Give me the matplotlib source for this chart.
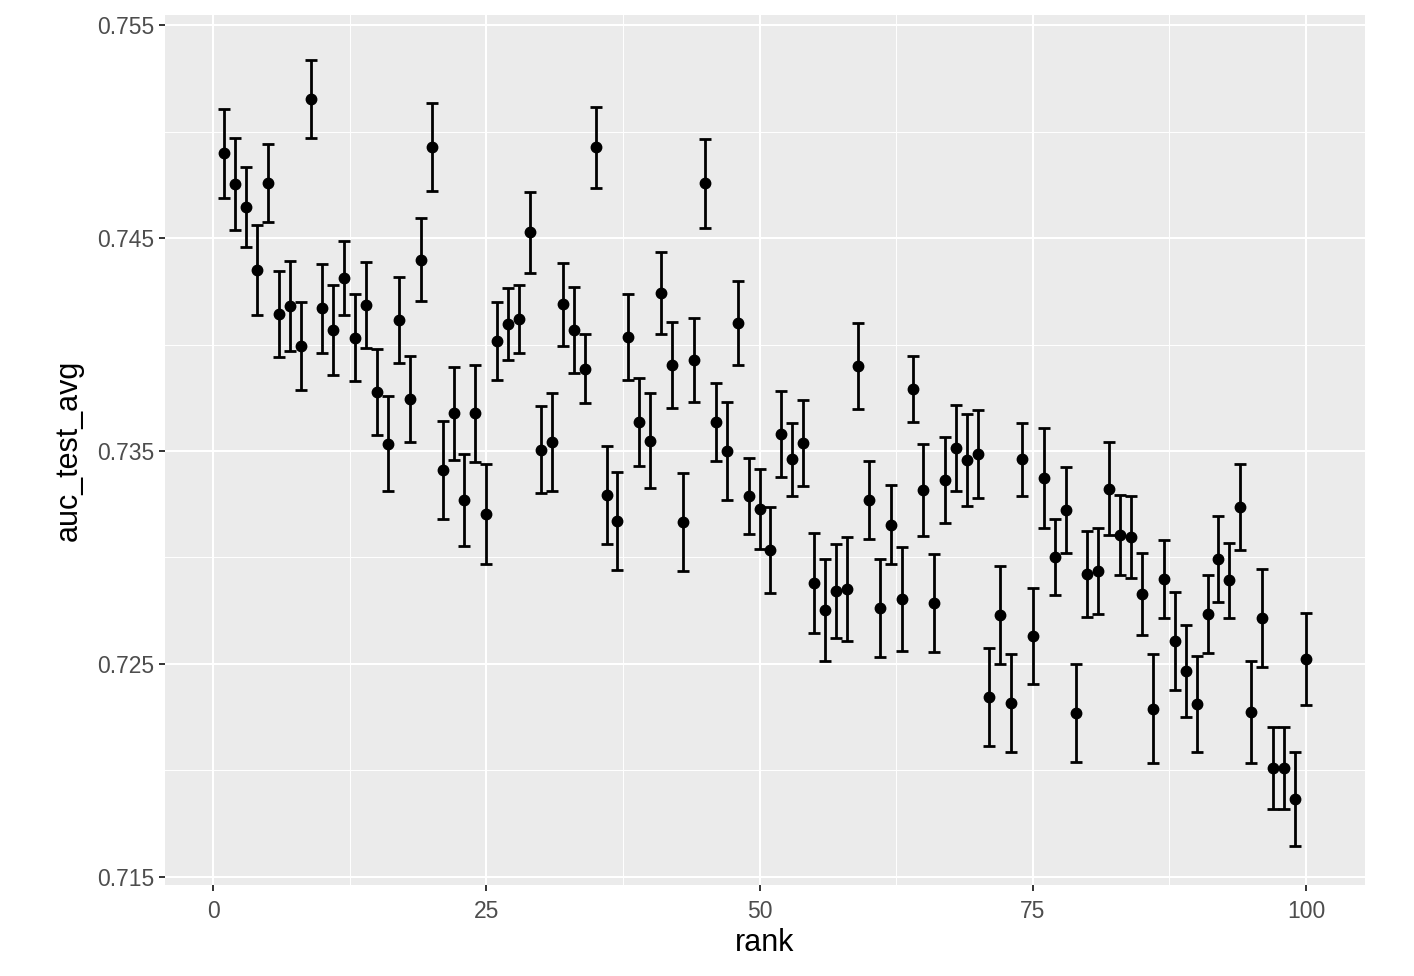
import matplotlib
matplotlib.use("Agg")
import matplotlib.pyplot as plt
from matplotlib.ticker import MultipleLocator

plt.rcParams['font.family'] = ['Liberation Sans', 'DejaVu Sans']

# mean test AUC per rank, and half-width of its error bar
rank = list(range(1, 101))
auc_test_avg = [
    0.74899, 0.74754, 0.74646, 0.74350, 0.74758, 0.74143, 0.74181, 0.73993, 0.75153, 0.74171,
    0.74068, 0.74312, 0.74031, 0.74185, 0.73777, 0.73533, 0.74115, 0.73744, 0.74397, 0.74927,
    0.73411, 0.73678, 0.73270, 0.73678, 0.73204, 0.74016, 0.74096, 0.74120, 0.74528, 0.73505,
    0.73542, 0.74190, 0.74068, 0.73885, 0.74927, 0.73293, 0.73171, 0.74035, 0.73636, 0.73547,
    0.74242, 0.73904, 0.73167, 0.73927, 0.74758, 0.73636, 0.73500, 0.74101, 0.73289, 0.73228,
    0.73035, 0.73580, 0.73462, 0.73538, 0.72880, 0.72754, 0.72843, 0.72852, 0.73899, 0.73270,
    0.72763, 0.73153, 0.72805, 0.73791, 0.73317, 0.72786, 0.73364, 0.73514, 0.73458, 0.73486,
    0.72345, 0.72730, 0.72317, 0.73462, 0.72631, 0.73373, 0.73002, 0.73223, 0.72270, 0.72923,
    0.72937, 0.73322, 0.73106, 0.73096, 0.72829, 0.72289, 0.72899, 0.72608, 0.72467, 0.72312,
    0.72735, 0.72993, 0.72894, 0.73237, 0.72275, 0.72716, 0.72012, 0.72012, 0.71866, 0.72523,
]
auc_err = [
    0.00209, 0.00216, 0.00188, 0.00211, 0.00183, 0.00204, 0.00211, 0.00207, 0.00183, 0.00209,
    0.00211, 0.00174, 0.00204, 0.00202, 0.00200, 0.00223, 0.00202, 0.00204, 0.00195, 0.00207,
    0.00228, 0.00218, 0.00216, 0.00228, 0.00235, 0.00183, 0.00167, 0.00160, 0.00190, 0.00204,
    0.00228, 0.00195, 0.00202, 0.00162, 0.00190, 0.00230, 0.00232, 0.00200, 0.00207, 0.00223,
    0.00192, 0.00202, 0.00230, 0.00197, 0.00209, 0.00183, 0.00232, 0.00195, 0.00178, 0.00188,
    0.00200, 0.00202, 0.00171, 0.00202, 0.00235, 0.00239, 0.00221, 0.00242, 0.00202, 0.00183,
    0.00228, 0.00185, 0.00244, 0.00153, 0.00218, 0.00230, 0.00200, 0.00204, 0.00216, 0.00207,
    0.00228, 0.00228, 0.00230, 0.00171, 0.00225, 0.00235, 0.00178, 0.00200, 0.00228, 0.00202,
    0.00202, 0.00218, 0.00188, 0.00192, 0.00192, 0.00256, 0.00185, 0.00228, 0.00218, 0.00225,
    0.00183, 0.00202, 0.00176, 0.00200, 0.00239, 0.00230, 0.00192, 0.00192, 0.00221, 0.00214,
]

fig = plt.figure(figsize=(14.14, 9.76), dpi=100)
ax = fig.add_axes([0.1167, 0.0932, 0.8486, 0.8914])
ax.set_facecolor("#EBEBEB")

ax.errorbar(rank, auc_test_avg, yerr=auc_err, fmt="o", color="black",
            markersize=7.5, elinewidth=2.0, capsize=4, capthick=2.0, zorder=3)

ax.set_xlim(-4.4, 105.4)
ax.set_ylim(0.71462, 0.75547)
ax.xaxis.set_major_locator(MultipleLocator(25))
ax.xaxis.set_minor_locator(MultipleLocator(12.5))
ax.set_yticks([0.715, 0.725, 0.735, 0.745, 0.755])
ax.set_yticks([0.72, 0.73, 0.74, 0.75], minor=True)
ax.set_yticklabels(["0.715", "0.725", "0.735", "0.745", "0.755"])

ax.grid(which="major", color="white", linewidth=1.5)
ax.grid(which="minor", color="white", linewidth=0.7)
ax.set_axisbelow(True)
for s in ax.spines.values():
    s.set_visible(False)

ax.tick_params(which="major", length=4.5, width=1.4, color="#333333",
               labelcolor="#4D4D4D", labelsize=16.5, pad=3)
ax.tick_params(axis="x", which="major", pad=6)
ax.tick_params(which="minor", length=0)

ax.set_xlabel("rank", fontsize=22, labelpad=4)
ax.set_ylabel("auc_test_avg", fontsize=22, labelpad=10)

fig.savefig("out.png", dpi=100)
